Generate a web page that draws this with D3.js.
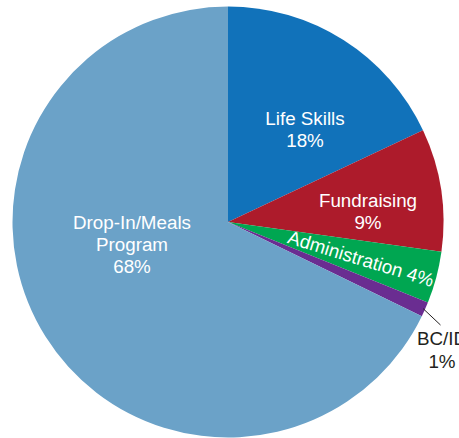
<!DOCTYPE html>
<html>
<head>
<meta charset="utf-8">
<script src="https://cdn.jsdelivr.net/npm/d3@7"></script>
<style>
  body { margin: 0; background: #ffffff; }
  svg { display: block; }
  text { font-family: "Liberation Sans", Arial, sans-serif; font-size: 18.8px; }
</style>
</head>
<body>
<div id="chart"></div>
<script>
// Data (clockwise from 12 o'clock)
const categories = ["Life Skills", "Fundraising", "Administration", "BC/ID", "Drop-In/Meals Program"];
const shares = [18.0, 9.2, 3.9, 1.1, 67.8];
const colors = ["#1172ba", "#ad1b2b", "#00a651", "#6a2d91", "#6ba2c8"];

// Label layout, relative to the pie centre
const labelLines = [["Life Skills"], ["Fundraising"], ["Administration"], ["BC/ID"], ["Drop-In/Meals", "Program"]];
const labelPos = [[77, -97], [140, -15], [131, 43], [214, 123], [-96, 7]];

const width = 459;
const height = 438;
const cx = 228;
const cy = 222;
const radius = 215.5;

const data = categories.map((c, i) => ({ name: c, value: shares[i], color: colors[i], lines: labelLines[i], pos: labelPos[i] }));

const pie = d3.pie().sort(null).value((d) => d.value);
const arc = d3.arc().innerRadius(0).outerRadius(radius);
const arcs = pie(data);

const svg = d3.select("#chart").append("svg").attr("width", width).attr("height", height);
const g = svg.append("g").attr("transform", `translate(${cx},${cy})`);

// Slices
g.selectAll("path.slice")
  .data(arcs)
  .join("path")
  .attr("class", "slice")
  .attr("fill", (d) => d.data.color)
  .attr("d", arc);

const pct = (v) => `${Math.round(v)}%`;

// Labels
arcs.forEach((a) => {
  const d = a.data;
  const [x, y] = d.pos;
  if (d.name === "Administration") {
    g.append("text")
      .attr("transform", `translate(${x},${y}) rotate(17)`)
      .attr("text-anchor", "middle")
      .attr("fill", "#ffffff")
      .text(`${d.name} ${pct(d.value)}`);
    return;
  }
  const outside = d.name === "BC/ID";
  const t = g.append("text")
    .attr("text-anchor", "middle")
    .attr("fill", outside ? "#231f20" : "#ffffff");
  d.lines.concat([pct(d.value)]).forEach((s, i) => {
    t.append("tspan").attr("x", x).attr("y", y + i * (outside ? 23 : 21.8)).text(s);
  });
  if (outside) {
    // leader line from the slice edge to the label
    const mid = (a.startAngle + a.endAngle) / 2;
    const r0 = radius - 2;
    const p0 = [Math.sin(mid) * r0, -Math.cos(mid) * r0];
    g.append("line")
      .attr("x1", p0[0])
      .attr("y1", p0[1])
      .attr("x2", x - 1.5)
      .attr("y2", y - 20)
      .attr("stroke", "#231f20")
      .attr("stroke-width", 1);
  }
});
</script>
</body>
</html>
